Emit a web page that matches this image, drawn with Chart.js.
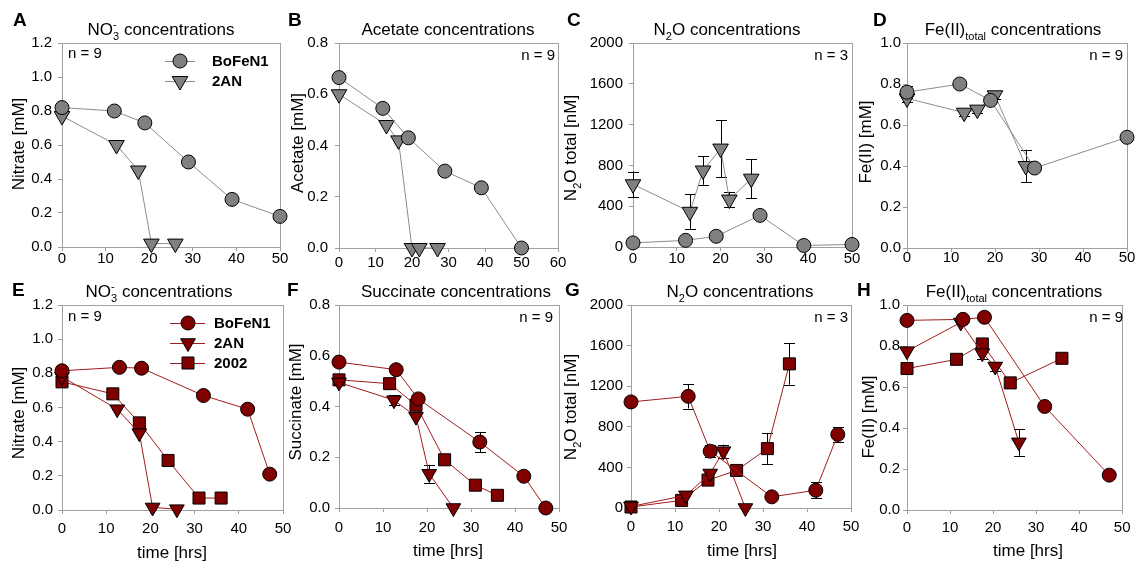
<!DOCTYPE html>
<html>
<head>
<meta charset="utf-8">
<script src="https://cdn.jsdelivr.net/npm/chart.js@4"></script>
<style>
  html, body { margin: 0; padding: 0; background: #fff; }
  #wrap { position: relative; width: 1137px; height: 563px; overflow: hidden; }
  #wrap canvas { position: absolute; left: 0; top: 0; }
</style>
</head>
<body>
<div id="wrap"></div>
<script>
// ---- values ----
// top row: BoFeN1 and 2AN, acetate
const tA_bo = [0, 12, 19, 29, 39, 50];
const nitA_bo = [0.82, 0.80, 0.73, 0.50, 0.28, 0.18];
const tA_2an = [0, 12.5, 17.5, 20.5, 26];
const nitA_2an = [0.77, 0.60, 0.45, 0.02, 0.02];

const tB_bo = [0, 12, 19, 29, 39, 50];
const acB_bo = [0.665, 0.545, 0.43, 0.30, 0.235, 0];
const tB_2an = [0, 13, 16.3, 20, 22, 27];
const acB_2an = [0.60, 0.48, 0.42, 0, 0, 0];

const tC_bo = [0, 12, 19, 29, 39, 50];
const n2oC_bo = [40, 65, 105, 310, 15, 25];
const tC_2an = [0, 13, 16, 20, 22, 27];
const n2oC_2an = [615, 345, 750, 965, 465, 670];
const errC_2an = [125, 170, 140, 280, 75, 190];

const tD_bo = [0, 12, 19, 29, 50];
const feD_bo = [0.76, 0.80, 0.72, 0.39, 0.54];
const errD_bo = [0.03, 0, 0, 0, 0];
const tD_2an = [0, 13, 16, 20, 27];
const feD_2an = [0.73, 0.66, 0.675, 0.745, 0.40];
const errD_2an = [0.02, 0.015, 0.015, 0.02, 0.08];

// bottom row: BoFeN1, 2AN and 2002, succinate
const tE_bo = [0, 13, 18, 32, 42, 47];
const nitE_bo = [0.815, 0.835, 0.83, 0.67, 0.59, 0.21];
const tE_2an = [0, 12.5, 17.5, 20.5, 26];
const nitE_2an = [0.78, 0.59, 0.45, 0.015, 0.005];
const tE_02 = [0, 11.5, 17.5, 24, 31, 36];
const nitE_02 = [0.75, 0.68, 0.51, 0.29, 0.07, 0.07];

const tF_bo = [0, 13, 18, 32, 42, 47];
const sucF_bo = [0.575, 0.545, 0.43, 0.26, 0.125, 0];
const errF_bo = [0.01, 0, 0, 0.04, 0, 0];
const tF_2an = [0, 12.5, 17.5, 20.5, 26];
const sucF_2an = [0.495, 0.425, 0.36, 0.135, 0];
const errF_2an = [0.01, 0.02, 0, 0.035, 0];
const tF_02 = [0, 11.5, 17.5, 24, 31, 36];
const sucF_02 = [0.505, 0.49, 0.405, 0.19, 0.09, 0.05];

const tG_bo = [0, 13, 18, 32, 42, 47];
const n2oG_bo = [1045, 1100, 560, 110, 175, 725];
const errG_bo = [0, 120, 60, 0, 80, 70];
const tG_2an = [0, 12.5, 18, 21, 26];
const n2oG_2an = [15, 125, 340, 560, 0];
const errG_2an = [0, 0, 0, 65, 0];
const tG_02 = [0, 11.5, 17.5, 24, 31, 36];
const n2oG_02 = [10, 75, 275, 370, 585, 1420];
const errG_02 = [0, 0, 0, 0, 150, 205];

const tH_bo = [0, 13, 18, 32, 47];
const feH_bo = [0.925, 0.93, 0.94, 0.505, 0.17];
const tH_2an = [0, 12.5, 17.5, 20.5, 26];
const feH_2an = [0.775, 0.915, 0.765, 0.70, 0.33];
const errH_2an = [0, 0, 0.03, 0.02, 0.065];
const tH_02 = [0, 11.5, 17.5, 24, 36];
const feH_02 = [0.69, 0.735, 0.81, 0.62, 0.74];

// tick labels
const ticksTime50 = [0, 10, 20, 30, 40, 50];
const ticksTime60 = [0, 10, 20, 30, 40, 50, 60];
const ticksNitrate = [0, 0.2, 0.4, 0.6, 0.8, 1.0, 1.2];
const ticksOrganic = [0, 0.2, 0.4, 0.6, 0.8];
const ticksN2O = [0, 400, 800, 1200, 1600, 2000];
const ticksFe = [0, 0.2, 0.4, 0.6, 0.8, 1.0];

// ---- styles ----
const FONT = '"Liberation Sans", Arial, sans-serif';
const GREY = { fill: '#808080', line: '#8c8c8c' };
const RED = { fill: '#800000', line: '#a01c1c' };
const FRAME = '#a0a0a0';
const W = 1137, H = 563, AXW = 60, AXH = 40;

const no3 = [['NO'], ['3', 'sub'], ['-', 'sup'], [' concentrations']];
const n2o = [['N'], ['2', 'sub'], ['O concentrations']];
const fe = [['Fe(II)'], ['total', 'sub'], [' concentrations']];
const n2oAxis = [['N'], ['2', 'sub'], ['O total [nM]']];

function series(label, xs, ys, errs, shape, col, big) {
  let radius = shape == 'circle' ? 7 : shape == 'triangle' ? (big ? 8.5 : 9) : 8.5;
  return {
    label: label,
    data: xs.map((x, i) => ({ x: x, y: ys[i] })),
    errors: errs,
    shape: shape,
    showLine: true,
    tension: 0,
    borderColor: col.line,
    borderWidth: 1,
    backgroundColor: col.fill,
    pointBackgroundColor: col.fill,
    pointBorderColor: '#000',
    pointBorderWidth: 1,
    pointStyle: shape,
    pointRotation: shape == 'triangle' ? 180 : 0,
    pointRadius: radius,
    clip: false
  };
}

// text with sub/superscripts; y is the visual middle
function drawRich(ctx, segs, x, y, size, align) {
  let small = Math.round(size * 0.66);
  let w = 0, prevStart = 0, prevMode = '';
  let items = [];
  segs.forEach(s => {
    let t = s[0], m = s[1] || '';
    let fs = m ? small : size;
    ctx.font = fs + 'px ' + FONT;
    let tw = ctx.measureText(t).width;
    let sx = w;
    if (m == 'sup' && prevMode == 'sub') {
      sx = prevStart;
      w = Math.max(w, prevStart + tw);
    } else {
      w += tw;
    }
    items.push({ t: t, m: m, fs: fs, sx: sx });
    prevStart = sx;
    prevMode = m;
  });
  let left = align == 'center' ? x - w / 2 : align == 'right' ? x - w : x;
  let base = y + 0.36 * size;
  ctx.textAlign = 'left';
  ctx.textBaseline = 'alphabetic';
  ctx.fillStyle = '#000';
  items.forEach(it => {
    ctx.font = it.fs + 'px ' + FONT;
    let dy = it.m == 'sub' ? 0.3 * size : it.m == 'sup' ? -0.42 * size : 0;
    ctx.fillText(it.t, left + it.sx, base + dy);
  });
}

function drawMarker(ctx, shape, x, y, r, col) {
  ctx.fillStyle = col.fill;
  ctx.strokeStyle = '#000';
  ctx.lineWidth = 1;
  ctx.beginPath();
  if (shape == 'circle') {
    ctx.arc(x, y, r, 0, Math.PI * 2);
  } else if (shape == 'triangle') {
    for (let k = 0; k < 3; k++) {
      let a = Math.PI + k * 2 * Math.PI / 3;
      let px = x + Math.sin(a) * r, py = y - Math.cos(a) * r;
      if (k == 0) ctx.moveTo(px, py); else ctx.lineTo(px, py);
    }
    ctx.closePath();
  } else {
    let s = r * Math.SQRT1_2;
    ctx.rect(x - s, y - s, 2 * s, 2 * s);
  }
  ctx.fill();
  ctx.stroke();
}

function panelPlugin(p) {
  return {
    id: 'panel' + p.letter,
    beforeDatasetsDraw(chart) {
      let ctx = chart.ctx, a = chart.chartArea;
      ctx.save();
      ctx.strokeStyle = FRAME;
      ctx.lineWidth = 1;
      ctx.strokeRect(Math.round(a.left) + 0.5, Math.round(a.top) + 0.5,
        Math.round(a.right - a.left), Math.round(a.bottom - a.top));
      // error bars
      let xs = chart.scales.x, ys = chart.scales.y;
      ctx.strokeStyle = '#000';
      chart.data.datasets.forEach(ds => {
        if (!ds.errors) return;
        ds.data.forEach((d, i) => {
          let e = ds.errors[i];
          if (!e) return;
          let px = Math.round(xs.getPixelForValue(d.x)) + 0.5;
          let y1 = ys.getPixelForValue(d.y + e), y2 = ys.getPixelForValue(d.y - e);
          ctx.beginPath();
          ctx.moveTo(px, y1); ctx.lineTo(px, y2);
          ctx.moveTo(px - 5.5, Math.round(y1) + 0.5); ctx.lineTo(px + 5.5, Math.round(y1) + 0.5);
          ctx.moveTo(px - 5.5, Math.round(y2) + 0.5); ctx.lineTo(px + 5.5, Math.round(y2) + 0.5);
          ctx.stroke();
        });
      });
      ctx.restore();
    },
    afterDraw(chart) {
      let ctx = chart.ctx;
      ctx.save();
      // panel letter
      ctx.font = 'bold 19px ' + FONT;
      ctx.fillStyle = '#000';
      ctx.textAlign = 'left';
      ctx.textBaseline = 'middle';
      ctx.fillText(p.letter, p.lx, p.ly);
      // title
      drawRich(ctx, p.title, p.tx, p.ty, 17, 'center');
      // n =
      drawRich(ctx, [[p.n]], p.nx, p.ny, 15, p.nalign);
      // y axis title
      ctx.save();
      ctx.translate(p.yx, p.yy);
      ctx.rotate(-Math.PI / 2);
      drawRich(ctx, p.ytitle, 0, 0, 17, 'center');
      ctx.restore();
      if (p.xtitle) drawRich(ctx, [[p.xtitle]], p.xx, p.xy, 17, 'center');
      // legend
      if (p.legend) {
        let L = p.legend;
        chart.data.datasets.forEach((ds, i) => {
          let y = L.ys[i];
          ctx.strokeStyle = ds.borderColor;
          ctx.lineWidth = 1;
          ctx.beginPath();
          ctx.moveTo(L.x0, Math.round(y) + 0.5);
          ctx.lineTo(L.x1, Math.round(y) + 0.5);
          ctx.stroke();
          drawMarker(ctx, ds.shape, L.mx, y, ds.pointRadius, p.col);
          ctx.font = 'bold 15px ' + FONT;
          ctx.fillStyle = '#000';
          ctx.textAlign = 'left';
          ctx.textBaseline = 'middle';
          ctx.fillText(ds.label, L.tx, y + 1);
        });
      }
      ctx.restore();
    }
  };
}

const panels = [
  { letter: 'A', lx: 13, ly: 21, plot: [62, 43, 280, 247], xmax: 50, xticks: ticksTime50, ymax: 1.2, yticks: ticksNitrate, dec: 1,
    xpad: 0, ypad: 6, title: no3, tx: 161, ty: 29, n: 'n = 9', nx: 68, ny: 53, nalign: 'left',
    ytitle: [['Nitrate [mM]']], yx: 18, yy: 144, col: GREY,
    legend: { x0: 165, x1: 195, mx: 180, tx: 212, ys: [61, 81] },
    sets: [series('BoFeN1', tA_bo, nitA_bo, null, 'circle', GREY), series('2AN', tA_2an, nitA_2an, null, 'triangle', GREY)] },
  { letter: 'B', lx: 288, ly: 21, plot: [339, 43, 558, 248], xmax: 60, xticks: ticksTime60, ymax: 0.8, yticks: ticksOrganic, dec: 1,
    xpad: 3.5, ypad: 7, title: [['Acetate concentrations']], tx: 448, ty: 29, n: 'n = 9', nx: 555, ny: 55, nalign: 'right',
    ytitle: [['Acetate [mM]']], yx: 297, yy: 143, col: GREY,
    sets: [series('BoFeN1', tB_bo, acB_bo, null, 'circle', GREY), series('2AN', tB_2an, acB_2an, null, 'triangle', GREY)] },
  { letter: 'C', lx: 567, ly: 21, plot: [633, 43, 852, 247], xmax: 50, xticks: ticksTime50, ymax: 2000, yticks: ticksN2O, dec: 0,
    xpad: 0.5, ypad: 6, title: n2o, tx: 727, ty: 29, n: 'n = 3', nx: 848, ny: 55, nalign: 'right',
    ytitle: n2oAxis, yx: 570, yy: 148, col: GREY,
    sets: [series('BoFeN1', tC_bo, n2oC_bo, null, 'circle', GREY), series('2AN', tC_2an, n2oC_2an, errC_2an, 'triangle', GREY)] },
  { letter: 'D', lx: 873, ly: 21, plot: [907, 43, 1128, 248], xmax: 50, xticks: ticksTime50, ymax: 1.0, yticks: ticksFe, dec: 1,
    xpad: -1.5, ypad: 2, title: fe, tx: 1013, ty: 29, n: 'n = 9', nx: 1123, ny: 55, nalign: 'right',
    ytitle: [['Fe(II) [mM]']], yx: 865, yy: 142, col: GREY,
    sets: [series('BoFeN1', tD_bo, feD_bo, errD_bo, 'circle', GREY), series('2AN', tD_2an, feD_2an, errD_2an, 'triangle', GREY)] },
  { letter: 'E', lx: 12, ly: 291, plot: [62, 305, 283, 510], xmax: 50, xticks: ticksTime50, ymax: 1.2, yticks: ticksNitrate, dec: 1,
    xpad: 7.5, ypad: 5, title: no3, tx: 159, ty: 291, n: 'n = 9', nx: 68, ny: 316, nalign: 'left',
    ytitle: [['Nitrate [mM]']], yx: 18, yy: 413, xtitle: 'time [hrs]', xx: 172, xy: 552, col: RED,
    legend: { x0: 170, x1: 205, mx: 188, tx: 214, ys: [323, 343, 363] },
    sets: [series('BoFeN1', tE_bo, nitE_bo, null, 'circle', RED), series('2AN', tE_2an, nitE_2an, null, 'triangle', RED, true),
      series('2002', tE_02, nitE_02, null, 'rect', RED)] },
  { letter: 'F', lx: 287, ly: 291, plot: [339, 305, 559, 508], xmax: 50, xticks: ticksTime50, ymax: 0.8, yticks: ticksOrganic, dec: 1,
    xpad: 8.5, ypad: 5, title: [['Succinate concentrations']], tx: 456, ty: 291, n: 'n = 9', nx: 553, ny: 317, nalign: 'right',
    ytitle: [['Succinate [mM]']], yx: 295, yy: 402, xtitle: 'time [hrs]', xx: 448, xy: 550, col: RED,
    sets: [series('BoFeN1', tF_bo, sucF_bo, errF_bo, 'circle', RED), series('2AN', tF_2an, sucF_2an, errF_2an, 'triangle', RED, true),
      series('2002', tF_02, sucF_02, null, 'rect', RED)] },
  { letter: 'G', lx: 565, ly: 291, plot: [631, 305, 851, 508], xmax: 50, xticks: ticksTime50, ymax: 2000, yticks: ticksN2O, dec: 0,
    xpad: 7.5, ypad: 4, title: n2o, tx: 740, ty: 291, n: 'n = 3', nx: 848, ny: 317, nalign: 'right',
    ytitle: n2oAxis, yx: 570, yy: 407, xtitle: 'time [hrs]', xx: 742, xy: 550, col: RED,
    sets: [series('BoFeN1', tG_bo, n2oG_bo, errG_bo, 'circle', RED), series('2AN', tG_2an, n2oG_2an, errG_2an, 'triangle', RED, true),
      series('2002', tG_02, n2oG_02, errG_02, 'rect', RED)] },
  { letter: 'H', lx: 857, ly: 291, plot: [907, 305, 1127, 510], xmax: 50, xticks: ticksTime50, ymax: 1.0, yticks: ticksFe, dec: 1,
    xpad: 6.5, ypad: 3, title: fe, tx: 1014, ty: 291, n: 'n = 9', nx: 1123, ny: 317, nalign: 'right',
    ytitle: [['Fe(II) [mM]']], yx: 868, yy: 417, xtitle: 'time [hrs]', xx: 1028, xy: 550, col: RED,
    sets: [series('BoFeN1', tH_bo, feH_bo, null, 'circle', RED), series('2AN', tH_2an, feH_2an, errH_2an, 'triangle', RED, true),
      series('2002', tH_02, feH_02, null, 'rect', RED)] }
];

Chart.defaults.font.family = FONT;
Chart.defaults.color = '#000';

panels.forEach(p => {
  let cv = document.createElement('canvas');
  cv.width = W;
  cv.height = H;
  cv.style.width = W + 'px';
  cv.style.height = H + 'px';
  document.getElementById('wrap').appendChild(cv);
  let tickFont = { family: FONT, size: 15, lineHeight: 1 };
  let grid = { drawOnChartArea: false, drawTicks: true, tickLength: 4, color: FRAME };
  new Chart(cv, {
    type: 'scatter',
    data: { datasets: p.sets },
    options: {
      responsive: false,
      devicePixelRatio: 1,
      animation: false,
      events: [],
      layout: {
        padding: { left: p.plot[0] - AXW, top: p.plot[1], right: W - p.plot[2], bottom: H - p.plot[3] - AXH }
      },
      plugins: { legend: { display: false }, tooltip: { enabled: false }, title: { display: false } },
      scales: {
        x: {
          type: 'linear', min: 0, max: p.xmax, offset: false,
          afterBuildTicks: s => { s.ticks = p.xticks.map(v => ({ value: v })); },
          afterFit: s => { s.height = AXH; },
          grid: grid, border: { display: false },
          ticks: { font: tickFont, color: '#000', padding: p.xpad, maxRotation: 0, callback: v => String(v) }
        },
        y: {
          type: 'linear', min: 0, max: p.ymax,
          afterBuildTicks: s => { s.ticks = p.yticks.map(v => ({ value: v })); },
          afterFit: s => { s.width = AXW; },
          grid: grid, border: { display: false },
          ticks: { font: tickFont, color: '#000', padding: p.ypad, callback: v => v.toFixed(p.dec) }
        }
      }
    },
    plugins: [panelPlugin(p)]
  });
});
</script>
</body>
</html>
